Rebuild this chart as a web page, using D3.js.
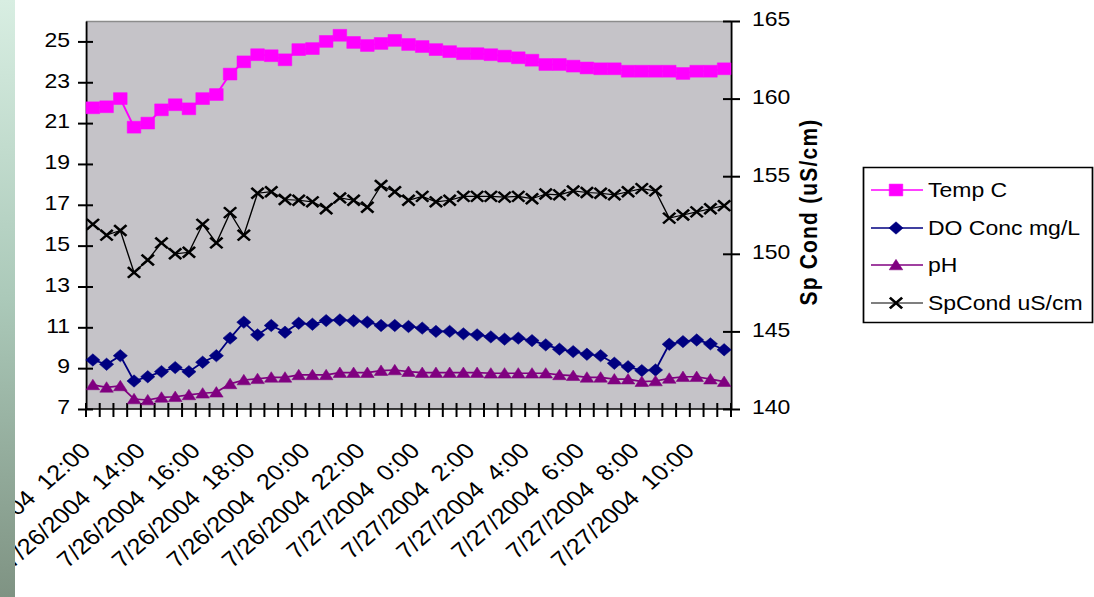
<!DOCTYPE html>
<html><head><meta charset="utf-8">
<script src="https://cdn.jsdelivr.net/npm/d3@7"></script>
<style>
html,body{margin:0;padding:0;background:#fff;overflow:hidden;}
svg{display:block;}
text{font-family:"Liberation Sans",Arial,Helvetica,sans-serif;fill:#000;}
</style></head><body>
<svg id="chart" width="1094" height="597"></svg>
<script>
// ---------- DATA ----------
const times = [
 "7/26/2004 12:00","7/26/2004 12:30","7/26/2004 13:00","7/26/2004 13:30","7/26/2004 14:00","7/26/2004 14:30",
 "7/26/2004 15:00","7/26/2004 15:30","7/26/2004 16:00","7/26/2004 16:30","7/26/2004 17:00","7/26/2004 17:30",
 "7/26/2004 18:00","7/26/2004 18:30","7/26/2004 19:00","7/26/2004 19:30","7/26/2004 20:00","7/26/2004 20:30",
 "7/26/2004 21:00","7/26/2004 21:30","7/26/2004 22:00","7/26/2004 22:30","7/26/2004 23:00","7/26/2004 23:30",
 "7/27/2004 0:00","7/27/2004 0:30","7/27/2004 1:00","7/27/2004 1:30","7/27/2004 2:00","7/27/2004 2:30",
 "7/27/2004 3:00","7/27/2004 3:30","7/27/2004 4:00","7/27/2004 4:30","7/27/2004 5:00","7/27/2004 5:30",
 "7/27/2004 6:00","7/27/2004 6:30","7/27/2004 7:00","7/27/2004 7:30","7/27/2004 8:00","7/27/2004 8:30",
 "7/27/2004 9:00","7/27/2004 9:30","7/27/2004 10:00","7/27/2004 10:30","7/27/2004 11:00"
];
const tickLabels = [
 "7/26/2004  12:00","7/26/2004  14:00","7/26/2004  16:00","7/26/2004  18:00","7/26/2004  20:00","7/26/2004  22:00",
 "7/27/2004  0:00","7/27/2004  2:00","7/27/2004  4:00","7/27/2004  6:00","7/27/2004  8:00","7/27/2004  10:00"
];
const tickLabelIndex = [0,4,8,12,16,20,24,28,32,36,40,44];
const tempC = [21.75,21.8,22.2,20.8,21.0,21.65,21.9,21.7,22.2,22.4,
 23.4,24.0,24.35,24.3,24.1,24.6,24.65,25.0,25.3,24.95,
 24.8,24.9,25.05,24.85,24.75,24.6,24.5,24.4,24.4,24.35,
 24.28,24.2,24.08,23.87,23.87,23.79,23.7,23.66,23.66,23.54,
 23.54,23.54,23.54,23.43,23.54,23.54,23.66];
const doConc = [9.4,9.19,9.61,8.37,8.58,8.83,9.03,8.83,9.29,9.61,
 10.47,11.25,10.63,11.09,10.76,11.2,11.15,11.33,11.36,11.32,
 11.25,11.09,11.09,11.04,10.96,10.8,10.8,10.68,10.63,10.53,
 10.42,10.47,10.35,10.14,9.93,9.81,9.68,9.61,9.24,9.07,
 8.88,8.91,10.17,10.3,10.38,10.19,9.9];
const pH = [8.18,8.06,8.13,7.49,7.44,7.57,7.6,7.69,7.77,7.82,
 8.23,8.42,8.48,8.55,8.55,8.67,8.67,8.67,8.78,8.78,
 8.78,8.88,8.91,8.83,8.78,8.78,8.78,8.78,8.78,8.75,
 8.75,8.75,8.75,8.75,8.67,8.63,8.55,8.55,8.46,8.46,
 8.34,8.37,8.5,8.58,8.58,8.46,8.34];
const spCond = [151.9,151.2,151.5,148.8,149.6,150.7,150.0,150.1,151.9,150.7,
 152.65,151.2,153.9,154.0,153.5,153.45,153.35,152.9,153.6,153.45,
 153.0,154.4,154.0,153.45,153.7,153.35,153.45,153.7,153.7,153.7,
 153.65,153.7,153.55,153.85,153.8,154.05,153.95,153.9,153.8,154.0,
 154.2,154.05,152.3,152.5,152.7,152.9,153.1];
const leftTicks = [7,9,11,13,15,17,19,21,23,25];
const rightTicks = [140,145,150,155,160,165];
const seriesNames = ["Temp C","DO Conc mg/L","pH","SpCond uS/cm"];
const rightTitle = "Sp Cond (uS/cm)";

// ---------- LAYOUT ----------
const W = 1094, H = 597;
const SX = 1.15; // horizontal stretch of the original picture
const fx = v => v / SX;
const X0 = fx(86), X1 = fx(731), Y0 = 409, Y1 = 21;

const svg = d3.select("#chart");
const defs = svg.append("defs");
const grad = defs.append("linearGradient").attr("id","strip").attr("x1",0).attr("y1",0).attr("x2",0).attr("y2",1);
grad.append("stop").attr("offset","0%").attr("stop-color","#d8eee2");
grad.append("stop").attr("offset","50%").attr("stop-color","#abc9b9");
grad.append("stop").attr("offset","100%").attr("stop-color","#7f9383");

const g = svg.append("g").attr("transform",`scale(${SX},1)`);

const xb = d3.scaleLinear().domain([0, times.length]).range([X0, X1]);
const xc = i => xb(i + 0.5);
const yL = d3.scaleLinear().domain([7,26]).range([Y0,Y1]);
const yR = d3.scaleLinear().domain([140,165]).range([Y0,Y1]);

// plot area
g.append("rect").attr("x",X0).attr("y",Y1).attr("width",X1-X0).attr("height",Y0-Y1).attr("fill","#c5c3c8");
g.append("line").attr("x1",X0).attr("x2",X1).attr("y1",Y1+0.5).attr("y2",Y1+0.5).attr("stroke","#8c8c8c").attr("stroke-width",1.5);

// left axis
const axL = g.append("g").attr("transform",`translate(${X0},0)`)
  .call(d3.axisLeft(yL).tickValues(leftTicks).tickSizeOuter(0).tickSizeInner(fx(8)));
axL.select(".domain").attr("stroke","#000").attr("stroke-width",1.6);
axL.selectAll(".tick line").attr("x1",fx(7)).attr("stroke","#000").attr("stroke-width",2);
axL.selectAll(".tick text").attr("x",fx(70-86)).attr("dy","0.24em").attr("font-size",20)
  .attr("font-family",null).style("font-family",'"Liberation Sans",Arial,sans-serif');

// right axis
const axR = g.append("g").attr("transform",`translate(${X1},0)`)
  .call(d3.axisRight(yR).tickValues(rightTicks).tickSizeOuter(0).tickSizeInner(fx(9)));
axR.select(".domain").attr("stroke","#000").attr("stroke-width",1.6);
axR.selectAll(".tick line").attr("x1",-fx(8)).attr("stroke","#000").attr("stroke-width",2);
axR.selectAll(".tick text").attr("x",fx(752-731)).attr("dy","0.24em").attr("font-size",20)
  .attr("font-family",null).style("font-family",'"Liberation Sans",Arial,sans-serif');

// right axis title
g.append("text")
  .attr("transform",`translate(${fx(817)},212) rotate(-90)`)
  .attr("text-anchor","middle").attr("font-size",21).attr("font-weight","bold")
  .style("letter-spacing","1.2px")
  .text(rightTitle);

// bottom axis (category boundaries)
g.append("line").attr("x1",X0).attr("x2",X1).attr("y1",Y0).attr("y2",Y0).attr("stroke","#000").attr("stroke-width",1.6);
g.append("g").selectAll("line").data(d3.range(times.length+1)).join("line")
  .attr("x1",d=>xb(d)).attr("x2",d=>xb(d)).attr("y1",Y0-6).attr("y2",Y0+8)
  .attr("stroke","#000").attr("stroke-width",fx(2));

g.append("g").selectAll("text").data(tickLabelIndex).join("text")
  .attr("transform",(d)=>`translate(${xc(d)-fx(1)},452) rotate(-45)`)
  .attr("text-anchor","end").attr("font-size",22)
  .style("white-space","pre")
  .text((d,j)=>tickLabels[j]);

// ---------- SERIES ----------
const diamond = {draw(ctx, size){const r=Math.sqrt(size/2); ctx.moveTo(0,-r); ctx.lineTo(r,0); ctx.lineTo(0,r); ctx.lineTo(-r,0); ctx.closePath();}};
const tri = {draw(ctx, size){const r=Math.sqrt(size)/2; ctx.moveTo(0,-r*1.05); ctx.lineTo(r*1.1,r*0.9); ctx.lineTo(-r*1.1,r*0.9); ctx.closePath();}};
const cross = {draw(ctx, size){const r=Math.sqrt(size)/2; ctx.moveTo(-r,-r); ctx.lineTo(r,r); ctx.moveTo(-r,r); ctx.lineTo(r,-r);}};

const series = [
  {name:seriesNames[0], values:tempC, y:yL, color:"#ff00ff", sym:d3.symbolSquare, size:140, lw:1.7, fill:true},
  {name:seriesNames[1], values:doConc, y:yL, color:"#000080", sym:diamond, size:76, lw:1.7, fill:true},
  {name:seriesNames[2], values:pH, y:yL, color:"#800080", sym:tri, size:115, lw:1.7, fill:true},
  {name:seriesNames[3], values:spCond, y:yR, color:"#000000", sym:cross, size:115, lw:1.2, fill:false}
];

series.forEach(s=>{
  const line = d3.line().x((d,i)=>xc(i)).y(d=>s.y(d));
  g.append("path").datum(s.values).attr("d",line).attr("fill","none")
    .attr("stroke",s.color).attr("stroke-width",s.lw);
  const sym = d3.symbol().type(s.sym).size(s.size);
  g.append("g").selectAll("path").data(s.values).join("path")
    .attr("transform",(d,i)=>`translate(${xc(i)},${s.y(d)})`)
    .attr("d",sym())
    .attr("fill",s.fill?s.color:"none")
    .attr("stroke",s.color)
    .attr("stroke-width",s.fill?0.5:2.3);
});

// ---------- LEGEND ----------
const lg = g.append("g");
lg.append("rect").attr("x",fx(863.5)).attr("y",167.5).attr("width",fx(1092.5)-fx(863.5)).attr("height",155)
  .attr("fill","#fff").attr("stroke","#000").attr("stroke-width",1.5);
const rowY = [190,228,265,303];
series.forEach((s,k)=>{
  const y = rowY[k];
  lg.append("line").attr("x1",fx(871)).attr("x2",fx(923)).attr("y1",y).attr("y2",y)
    .attr("stroke",s.color).attr("stroke-width",s.lw);
  lg.append("path").attr("transform",`translate(${fx(896)},${y})`)
    .attr("d",d3.symbol().type(s.sym).size(s.size)())
    .attr("fill",s.fill?s.color:"none").attr("stroke",s.color).attr("stroke-width",s.fill?0.5:2.3);
  lg.append("text").attr("x",fx(928)).attr("y",y).attr("dy","0.36em").attr("font-size",20).text(s.name);
});

// decorative slide strip on the left edge (covers the start of the first labels, as in the original)
svg.append("rect").attr("x",0).attr("y",0).attr("width",15).attr("height",H).attr("fill","url(#strip)");
</script>
</body></html>
